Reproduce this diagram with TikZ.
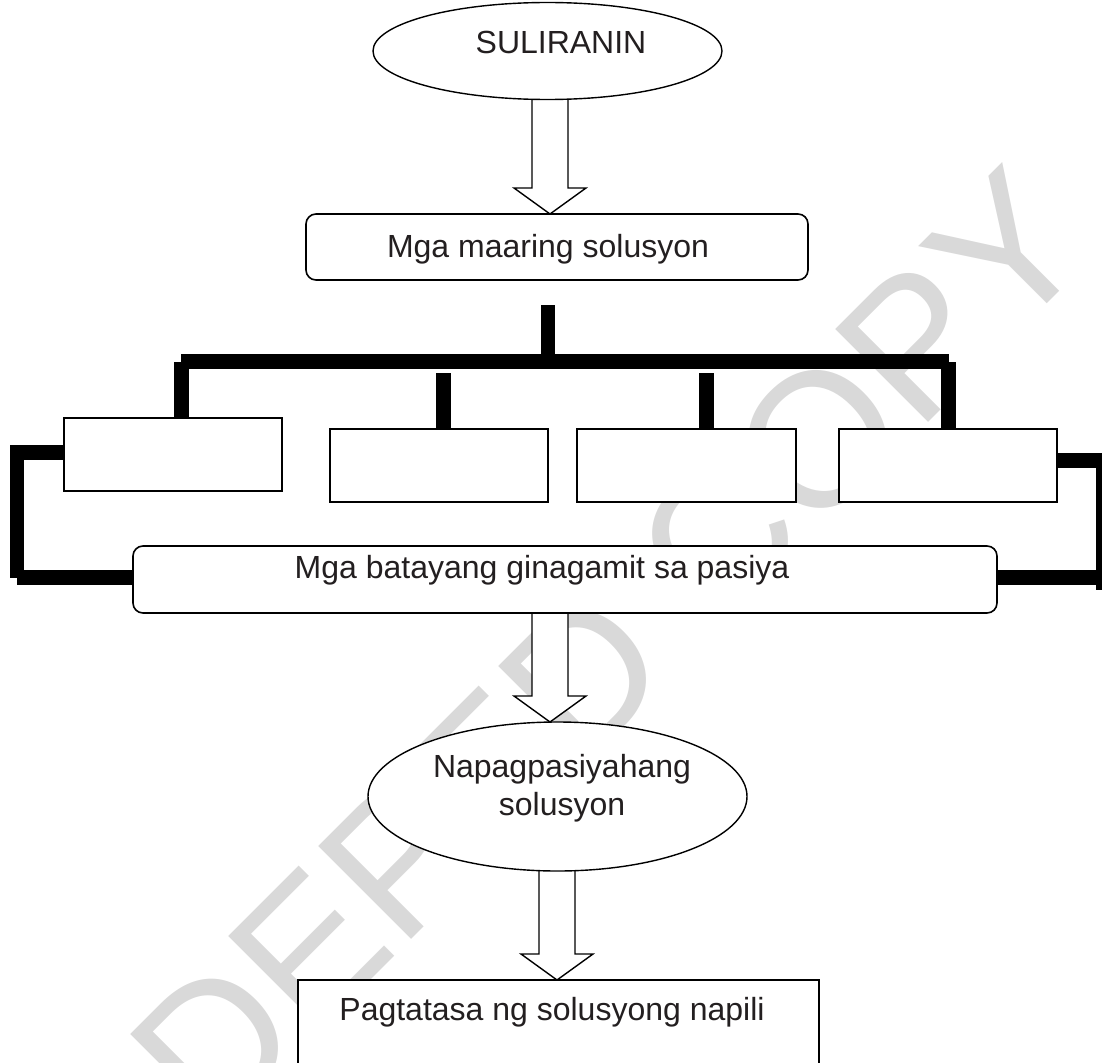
\documentclass[tikz,border=0pt]{standalone}
\usepackage{fontspec}
\setmainfont{Liberation Sans}
\usetikzlibrary{shapes.geometric,calc}
\definecolor{txtcol}{RGB}{35,31,32}
\definecolor{wmark}{RGB}{217,217,217}
\pgfdeclarelayer{wmlayer}
\pgfdeclarelayer{linklayer}
\pgfsetlayers{wmlayer,linklayer,main}
\newcommand{\myblockarrow}[2]{%
  \draw[blockarrow] let \p1=(#1), \p2=(#2) in
    (\x1-18pt,\y1) -- (\x1-18pt,\y2+26pt) -- (\x1-36pt,\y2+26pt) -- (\x2,\y2)
    -- (\x1+36pt,\y2+26pt) -- (\x1+18pt,\y2+26pt) -- (\x1+18pt,\y1);}
\begin{document}
\begin{tikzpicture}[x=1pt,y=-1pt,
  sqbox/.style={draw=black,line width=1.6pt,fill=white,rectangle,inner sep=0pt,minimum width=218pt,minimum height=73pt},
  rbox/.style={draw=black,line width=1.6pt,fill=white,rectangle,rounded corners=10pt,inner sep=0pt},
  oval/.style={draw=black,line width=1.4pt,fill=white,ellipse,inner sep=0pt},
  lbl/.style={font=\fontsize{32}{38}\selectfont,text=txtcol,inner sep=0pt},
  blockarrow/.style={draw=black,line width=1.4pt,fill=white,line join=miter},
  thickbar/.style={line width=15pt,line cap=butt,draw=black}]
\useasboundingbox (0,0) rectangle (1102,1062);
\clip (0,0) rectangle (1102,1062);

% shapes
\node[oval,minimum width=349pt,minimum height=97pt] (e1) at (547.5,51) {};
\node[rbox,minimum width=502pt,minimum height=66pt] (b1) at (557,247) {};
\node[sqbox] (bA) at (173,454.5) {};
\node[sqbox] (bB) at (439,465.5) {};
\node[sqbox,minimum width=219pt] (bC) at (686.5,465.5) {};
\node[sqbox] (bD) at (948,465.5) {};
\node[rbox,minimum width=864pt,minimum height=67pt] (bE) at (565,579.5) {};
\node[oval,minimum width=379pt,minimum height=149pt] (e2) at (557.5,796.5) {};
\node[sqbox,minimum width=521pt,minimum height=90pt] (bF) at (558.5,1025) {};

% texts
\node[lbl,anchor=base] (t1) at (561,54) {SULIRANIN};
\node[lbl,anchor=base] (t2) at (548,257) {Mga maaring solusyon};
\node[lbl,anchor=base] (t3) at (542,578) {Mga batayang ginagamit sa pasiya};
\node[lbl,align=center] (t4) at (562,788) {Napagpasiyahang\\solusyon};
\node[lbl,anchor=base] (t5) at (552,1020) {Pagtatasa ng solusyong napili};

\begin{pgfonlayer}{linklayer}
\clip (0,0) rectangle (1102,1062);
\coordinate (hub) at (548,305);
\coordinate (barL) at (181,361);
\coordinate (barR) at (949,361);
\draw[thickbar,line width=14pt] (hub) -- (hub |- barL);
\draw[thickbar] (barL) -- (barR);
\coordinate (dropL) at (181.5,362);
\coordinate (dropR) at (948.5,362);
\draw[thickbar] (dropL) -- (dropL |- bA.north);
\draw[thickbar] (dropR) -- (dropR |- bD.north);
\coordinate (stubB) at (443.5,373);
\coordinate (stubC) at (706.5,373);
\draw[thickbar] (stubB) -- (stubB |- bB.north);
\draw[thickbar] (stubC) -- (stubC |- bC.north);
% left bracket
\coordinate (lbTop) at (17,452.5);
\coordinate (lvTop) at (17,445);
\coordinate (lvBot) at (17,578);
\coordinate (lbBot) at (17,577.5);
\draw[thickbar] (lbTop) -- (lbTop -| bA.west);
\draw[thickbar,line width=14pt] (lvTop) -- (lvBot);
\draw[thickbar] (lbBot) -- (lbBot -| bE.west);
% right bracket
\coordinate (rbTop) at (1097,460.5);
\coordinate (rvTop) at (1103,453);
\coordinate (rvBot) at (1103,590);
\coordinate (rbBot) at (1097,577.5);
\draw[thickbar] (bD.east |- rbTop) -- (rbTop);
\draw[thickbar,line width=14pt] (rvTop) -- (rvBot);
\draw[thickbar] (bE.east |- rbBot) -- (rbBot);
% block arrows
\coordinate (a1s) at (550,90);
\coordinate (a1t) at (550,214);
\coordinate (a2s) at (550,605);
\coordinate (a2t) at (550,722);
\coordinate (a3s) at (557,860);
\coordinate (a3t) at (557,980);
\myblockarrow{a1s}{a1t}
\myblockarrow{a2s}{a2t}
\myblockarrow{a3s}{a3t}
\end{pgfonlayer}

\begin{pgfonlayer}{wmlayer}
\clip (0,0) rectangle (1102,1062);
\node[font=\fontsize{191}{191}\selectfont,text=wmark,rotate=45,inner sep=0pt] (wm) at (609,649) {DEPED COPY};
\end{pgfonlayer}
\end{tikzpicture}
\end{document}
